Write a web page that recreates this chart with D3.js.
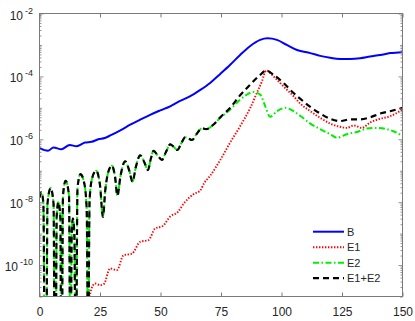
<!DOCTYPE html>
<html><head><meta charset="utf-8">
<script src="https://cdn.jsdelivr.net/npm/d3@7"></script>
<style>body{margin:0;background:#fff}svg{display:block}</style>
</head><body><svg id="c" width="415" height="321"></svg>
<script>
// ---------- data ----------
const xTicks = [0, 25, 50, 75, 100, 125, 150];
const yLabelExps = [-10, -8, -6, -4, -2];
const seriesNames = ["B", "E1", "E2", "E1+E2"];

const tB = [0,3.5,5.8,9.0,12.5,15.3,18.8,21.5,24.3,27.0,29.5,33.8,37.5,41.6,45.7,49.9,54.0,58.1,62.3,66.4,70.5,74.7,78.8,82.9,87.1,91.2,94.2,98.1,102.2,106.4,111.9,116.0,120.1,124.2,128.4,132.5,136.6,140.8,144.9,150];
const vB = [5.2e-7,4.3e-7,5.5e-7,4.8e-7,6.6e-7,6.0e-7,7.9e-7,8.3e-7,1.0e-6,1.1e-6,1.35e-6,2.0e-6,2.9e-6,4.2e-6,6.0e-6,8.3e-6,1.12e-5,1.66e-5,2.34e-5,3.7e-5,6.2e-5,1.2e-4,2.34e-4,4.8e-4,9.3e-4,1.45e-3,1.62e-3,1.45e-3,1.0e-3,6.9e-4,5.5e-4,4.5e-4,3.9e-4,3.6e-4,3.6e-4,3.8e-4,4.3e-4,4.8e-4,5.5e-4,5.9e-4];

const tE1 = [20.2,21.3,23.0,25.1,26.6,29.2,32.0,34.7,38.2,41.6,45.0,47.8,50.9,54.0,57.1,59.8,63.6,66.4,68.1,70.5,74.7,78.8,82.9,87.1,89.8,91.9,93.7,96.7,100.8,105.0,107.7,111.9,116.0,120.1,124.2,127.0,129.8,133.2,136.6,140.8,144.9,150];
const vE1 = [5e-12,1.6e-11,2.6e-11,2.3e-11,2.5e-11,7.8e-11,6.9e-11,2.04e-10,2.3e-10,5.5e-10,6.2e-10,1.45e-9,1.74e-9,3.5e-9,4.8e-9,9.5e-9,1.78e-8,2.34e-8,4.1e-8,6.9e-8,2.2e-7,7.9e-7,2.6e-6,1.0e-5,2.95e-5,6.9e-5,1.55e-4,1.0e-4,4.8e-5,2.34e-5,1.38e-5,7.8e-6,4.8e-6,3.16e-6,2.5e-6,2.3e-6,2.75e-6,2.3e-6,3.4e-6,4.5e-6,5.4e-6,8.9e-6];

const tE2 = [0,0.8,1.6,2.2,2.8,3.3,4.6,5.8,6.3,6.7,7.1,7.8,8.6,9.0,9.2,9.7,10.8,12.2,12.7,12.9,13.3,13.8,14.4,14.9,15.1,15.7,16.9,18.5,19.5,20.1,20.7,21.8,23.4,25.0,26.2,27.2,28.4,29.9,31.2,32.2,33.5,35.4,37.1,38.4,39.9,41.6,43.4,44.8,46.0,47.1,48.9,50.6,52.3,54.0,55.6,57.0,58.6,60.2,61.7,63.0,65.0,67.1,68.9,71.9,74.7,78.8,82.9,85.7,88.4,91.2,93.3,95.3,98.1,101.5,105.0,107.7,111.9,116.0,120.1,122.9,127.0,131.2,135.3,139.4,143.6,146.3,150];
const vE2 = [1.4e-8,2.1e-8,9e-9,1e-13,1e-13,9e-9,2.8e-8,9e-9,1e-13,1e-13,3.5e-9,1.0e-8,3.5e-9,1e-13,1e-13,1.6e-8,4.8e-8,1.6e-8,1e-13,1e-13,1.0e-9,3.0e-9,1.0e-9,1e-13,1e-13,2.8e-8,7.8e-8,4.0e-8,6e-9,1e-13,1.2e-8,6e-8,1.0e-7,3.5e-8,3.4e-9,2.5e-8,9e-8,1.45e-7,6.5e-8,1.62e-8,7e-8,2.0e-7,1.0e-7,4.5e-8,1.4e-7,3.1e-7,1.8e-7,1.05e-7,2.4e-7,4.3e-7,3.0e-7,2.2e-7,4.0e-7,6.9e-7,5.6e-7,4.6e-7,7.5e-7,1.15e-6,1.05e-6,9.5e-7,1.5e-6,2.24e-6,2.1e-6,2.95e-6,4.8e-6,8.9e-6,1.82e-5,2.63e-5,3.2e-5,2.63e-5,1.12e-5,5.2e-6,7.8e-6,1.0e-5,7.8e-6,5.6e-6,3.16e-6,2.1e-6,1.45e-6,1.12e-6,1.45e-6,1.7e-6,2.2e-6,2.3e-6,2.1e-6,1.8e-6,1.26e-6];

const tSum = [0,0.8,1.6,2.2,2.8,3.3,4.6,5.8,6.3,6.7,7.1,7.8,8.6,9.0,9.2,9.7,10.8,12.2,12.7,12.9,13.3,13.8,14.4,14.9,15.1,15.7,16.9,18.5,19.5,20.1,20.7,21.8,23.4,25.0,26.2,27.2,28.4,29.9,31.2,32.2,33.5,35.4,37.1,38.4,39.9,41.6,43.4,44.8,46.0,47.1,48.9,50.6,52.3,54.0,55.6,57.0,58.6,60.2,61.7,63.0,65.0,67.1,68.9,71.9,74.7,78.8,82.9,87.1,91.2,93.7,96.7,100.8,105.0,107.7,111.9,116.0,120.1,124.2,128.4,132.5,136.6,140.8,144.9,150];
const vSum = [1.4e-8,2.1e-8,9e-9,1e-13,1e-13,9e-9,2.8e-8,9e-9,1e-13,1e-13,3.5e-9,1.0e-8,3.5e-9,1e-13,1e-13,1.6e-8,4.8e-8,1.6e-8,1e-13,1e-13,1.0e-9,3.0e-9,1.0e-9,1e-13,1e-13,2.8e-8,7.8e-8,4.0e-8,6e-9,1e-13,1.2e-8,6e-8,1.0e-7,3.5e-8,3.4e-9,2.5e-8,9e-8,1.45e-7,6.5e-8,1.62e-8,7e-8,2.0e-7,1.0e-7,4.5e-8,1.4e-7,3.1e-7,1.8e-7,1.05e-7,2.4e-7,4.3e-7,3.0e-7,2.2e-7,4.0e-7,6.9e-7,5.6e-7,4.6e-7,7.5e-7,1.15e-6,1.05e-6,9.5e-7,1.5e-6,2.24e-6,2.1e-6,2.95e-6,5.0e-6,1.0e-5,2.5e-5,5.5e-5,1.12e-4,1.55e-4,1.12e-4,6.2e-5,2.95e-5,1.95e-5,1.07e-5,6.6e-6,4.5e-6,3.8e-6,4.3e-6,4.3e-6,5.0e-6,6.6e-6,7.8e-6,1.0e-5];

// ---------- layout ----------
const L = 39.5, R = 402.5, T = 13.5, Bt = 296.5;
const axisCol = "#7a7a7a", textCol = "#262626";
const svg = d3.select("#c");
const x = d3.scaleLinear().domain([0, 150]).range([L, R]);
const y = d3.scaleLog().domain([1e-11, 1e-2]).range([Bt, T]);

svg.append("defs").append("clipPath").attr("id", "clip")
  .append("rect").attr("x", L).attr("y", T).attr("width", R - L).attr("height", Bt - T);

// ---------- series ----------
const series = [
  {t: tB, v: vB, color: "#0000ff", dash: null, w: 2},
  {t: tE1, v: vE1, color: "#ff0000", dash: "1.4,1.6", w: 1.9},
  {t: tE2, v: vE2, color: "#00ee00", dash: "6,2.5,1.5,2.5", w: 2},
  {t: tSum, v: vSum, color: "#000000", dash: "6,4", w: 2.2}
];
const line = d3.line().x(d => x(d[0])).y(d => y(d[1])).curve(d3.curveMonotoneX);
const gLines = svg.append("g").attr("clip-path", "url(#clip)");
series.forEach(s => {
  const pts = s.t.map((t, i) => [t, s.v[i]]);
  gLines.append("path").attr("d", line(pts)).attr("fill", "none")
    .attr("stroke", s.color).attr("stroke-width", s.w)
    .attr("stroke-dasharray", s.dash).attr("stroke-linejoin", "round");
});

// ---------- axes ----------
const gAx = svg.append("g");
gAx.append("rect").attr("x", L).attr("y", T).attr("width", R - L).attr("height", Bt - T)
  .attr("fill", "none").attr("stroke", axisCol).attr("stroke-width", 1);

const xb = gAx.append("g").attr("transform", `translate(0,${Bt})`)
  .call(d3.axisBottom(x).tickValues(xTicks).tickSize(-4).tickPadding(11).tickFormat(d3.format("d")));
const xt = gAx.append("g").attr("transform", `translate(0,${T})`)
  .call(d3.axisTop(x).tickValues(xTicks).tickSize(-4).tickFormat(""));
[xb, xt].forEach(g => { g.select(".domain").remove(); g.selectAll("line").attr("stroke", axisCol); });
xb.selectAll("text").attr("fill", textCol).style("font-family", "Liberation Sans, Arial, sans-serif").style("font-size", "12px");

const majors = d3.range(-11, -1).map(e => Math.pow(10, e));
const minors = [];
d3.range(-11, -2).forEach(e => { for (let k = 2; k <= 9; k++) minors.push(k * Math.pow(10, e)); });
const labeled = new Set(yLabelExps);
[[d3.axisLeft, L], [d3.axisRight, R]].forEach(([ax, pos]) => {
  const gm = gAx.append("g").attr("transform", `translate(${pos},0)`)
    .call(ax(y).tickValues(majors.filter(v => labeled.has(Math.round(Math.log10(v))))).tickSize(-4).tickFormat(""));
  const gm2 = gAx.append("g").attr("transform", `translate(${pos},0)`)
    .call(ax(y).tickValues(majors.filter(v => !labeled.has(Math.round(Math.log10(v))))).tickSize(-2.5).tickFormat(""));
  const gn = gAx.append("g").attr("transform", `translate(${pos},0)`)
    .call(ax(y).tickValues(minors).tickSize(-2).tickFormat(""));
  [gm, gm2, gn].forEach(g => { g.select(".domain").remove(); g.selectAll("line").attr("stroke", axisCol).attr("stroke-width", 0.8); });
});

const yl = gAx.append("g").style("font-family", "Liberation Sans, Arial, sans-serif").attr("fill", textCol);
yLabelExps.forEach(e => {
  const yy = y(Math.pow(10, e));
  const t = yl.append("text").attr("x", 33).attr("y", yy + 6).attr("text-anchor", "end");
  t.append("tspan").style("font-size", "12px").text("10");
  t.append("tspan").attr("dx", 2).attr("dy", -6).style("font-size", "9px").text(String(e));
});

// ---------- legend ----------
const lg = svg.append("g").style("font-family", "Liberation Sans, Arial, sans-serif");
const legY0 = 231.7, legDy = 15.5;
series.forEach((s, i) => {
  const yy = legY0 + i * legDy;
  lg.append("line").attr("x1", 313).attr("x2", 344).attr("y1", yy).attr("y2", yy)
    .attr("stroke", s.color).attr("stroke-width", s.w).attr("stroke-dasharray", s.dash);
  lg.append("text").attr("x", 347).attr("y", yy + 4).style("font-size", "11px")
    .attr("fill", textCol).text(seriesNames[i]);
});
</script>
</body></html>
